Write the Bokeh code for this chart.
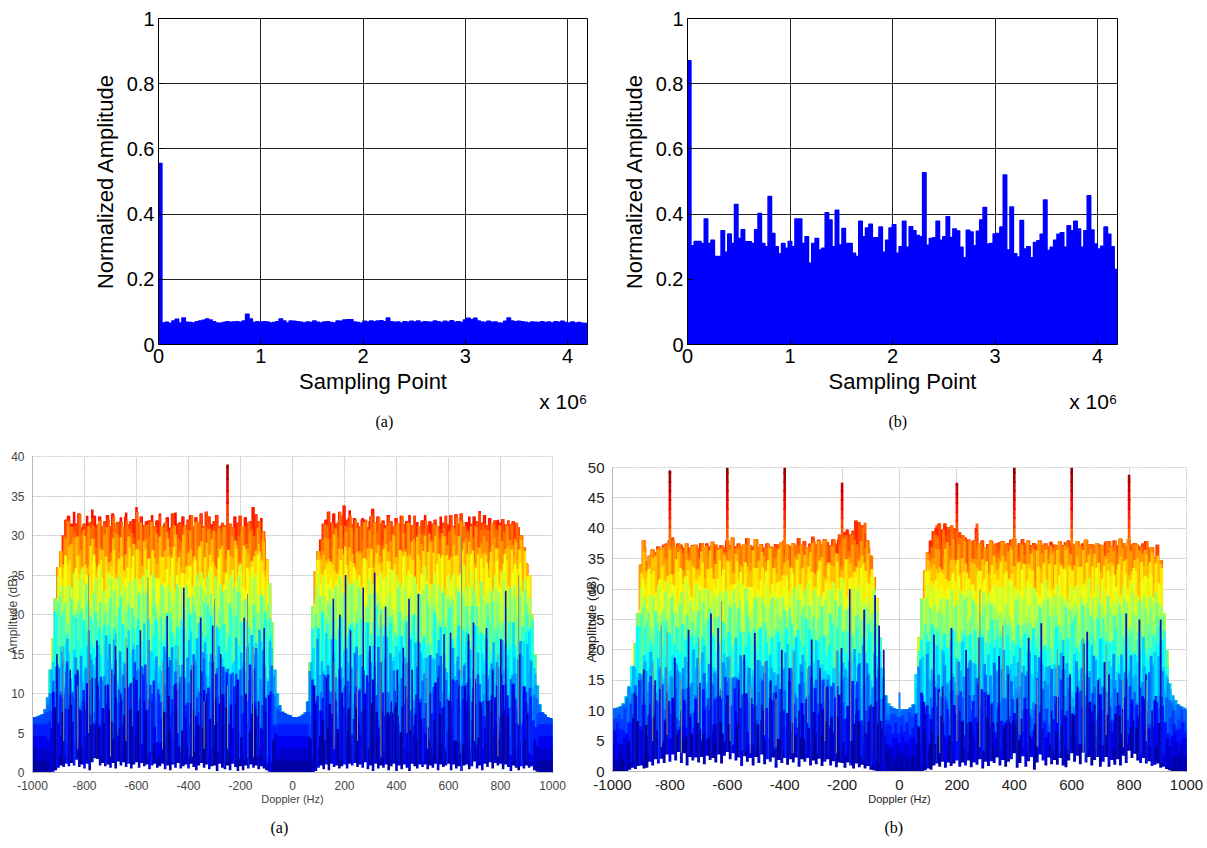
import numpy as np
from bokeh.embed import file_html
from bokeh.layouts import column, row
from bokeh.models import FixedTicker, Range1d, Title
from bokeh.plotting import figure
from bokeh.resources import INLINE

# ---------- data ----------
bin_width = 32768
x_limit = 4194304
amp_top_a = [
    .555, .066, .068, .064, .072, .077, .066, .081, .068, .067, .066, .070, .072, .074, .078, .075,
    .070, .066, .065, .067, .070, .068, .069, .070, .068, .072, .093, .078, .067, .070, .068, .070,
    .069, .066, .067, .070, .078, .072, .066, .072, .071, .070, .068, .066, .069, .067, .072, .068,
    .066, .069, .070, .067, .066, .072, .071, .075, .076, .076, .069, .067, .065, .071, .069, .072,
    .070, .072, .073, .070, .081, .070, .068, .069, .066, .070, .068, .071, .069, .072, .067, .070,
    .069, .068, .072, .070, .067, .071, .069, .073, .068, .070, .067, .075, .080, .076, .080, .072,
    .069, .067, .071, .068, .069, .066, .065, .071, .081, .072, .070, .071, .070, .068, .066, .069,
    .068, .067, .070, .067, .069, .066, .070, .068, .071, .067, .066, .069, .066, .067, .065, .064]
amp_top_b = [
    .870, .303, .316, .316, .310, .385, .310, .320, .270, .270, .349, .283, .339, .310, .429, .325,
    .352, .315, .315, .310, .352, .402, .310, .300, .454, .340, .300, .278, .310, .295, .316, .300,
    .385, .385, .310, .330, .249, .310, .325, .290, .295, .404, .382, .300, .412, .305, .356, .310,
    .310, .280, .270, .378, .330, .357, .369, .327, .327, .360, .283, .320, .357, .367, .280, .300,
    .378, .298, .361, .349, .334, .330, .527, .304, .325, .327, .378, .320, .330, .392, .328, .354,
    .348, .298, .266, .350, .345, .303, .347, .382, .420, .308, .310, .339, .340, .360, .520, .290,
    .422, .278, .268, .380, .293, .300, .266, .313, .318, .338, .443, .288, .298, .320, .338, .343,
    .298, .364, .349, .378, .354, .298, .349, .456, .351, .308, .293, .301, .360, .338, .300, .230]

doppler_step = 10
env_a = [
    7.0, 7.0, 7.1, 7.2, 7.4, 8.0, 9.5, 13, 17, 22,
    26, 28, 30, 32, 32.5, 31.5, 33, 31.5, 32.8, 31,
    31.5, 32.5, 31.6, 33.3, 32.5, 31.4, 32.4, 31.2, 31.8, 32.6,
    31.2, 32.8, 31.5, 31.7, 32.3, 31.1, 32.9, 31.4, 31.8, 32.1,
    33.6, 31.6, 32.4, 31.3, 31.8, 31.9, 32.6, 31.2, 31.9, 32.8,
    31.2, 31.6, 32.3, 31.0, 32.8, 32.9, 31.5, 31.7, 32.4, 31.3,
    32.0, 32.6, 31.2, 32.3, 31.5, 32.8, 31.2, 33.0, 32.4, 31.4,
    31.8, 32.6, 31.1, 31.6, 31.3, 32.3, 31.5, 31.0, 32.4, 31.6,
    32.5, 31.2, 32.3, 31.6, 31.8, 33.6, 32.7, 31.8, 32.2, 30.5,
    27, 24, 19, 13, 10, 8.5, 7.7, 7.5, 7.3, 7.2,
    7.0, 7.0, 7.0, 7.1, 7.3, 7.6, 9, 14, 21, 25.5,
    28, 29.5, 31.5, 32, 33, 31.6, 32.8, 31.5, 33, 32.5,
    33.8, 32, 33.2, 31.4, 32.2, 31.6, 31.2, 32.2, 32, 31,
    32.4, 33.4, 31.6, 32.4, 31.5, 31.9, 31.3, 32.6, 31.8, 31.1,
    32.2, 31.5, 32.5, 31.4, 31.8, 32.6, 31.3, 32.5, 31.7, 31.2,
    31.9, 32.6, 31.3, 31.8, 31.5, 32.0, 31.2, 32.4, 31.6, 32.5,
    31.4, 32.6, 31.2, 32.7, 31.5, 32.8, 31.2, 31.7, 32.4, 31.5,
    32.4, 31.8, 33.1, 31.6, 32.6, 31.3, 32.2, 31.5, 31.9, 32.0,
    31.6, 32.1, 31.4, 31.9, 31.4, 31.8, 31.6, 31.0, 30, 28.5,
    26.5, 25, 20, 15, 11, 8.6, 7.6, 7.3, 7.0, 6.9,
    6.8]
env_b = [
    10.3, 10.4, 10.5, 10.7, 11.2, 12.4, 14, 17.3, 21, 26,
    34, 38, 34.5, 35.5, 36.5, 36, 37, 36.5, 37.3, 37.5,
    38, 38.5, 37, 37.5, 37.3, 36.8, 37.5, 36.8, 37.2, 37.3,
    36.8, 37.6, 36.9, 37.5, 37, 37.8, 37.3, 36.7, 37.2, 36.8,
    38, 37.2, 38.5, 37, 37.5, 37, 37.4, 38.4, 37.2, 37,
    38.2, 36.9, 37.4, 36.8, 37.5, 37, 36.9, 37.4, 37.3, 37.7,
    38, 37.3, 37.1, 37.5, 37.2, 38.4, 37.3, 37.9, 36.9, 37.5,
    38.6, 37.4, 38.1, 37.3, 38.2, 37.7, 37.2, 38.2, 37.5, 39,
    38.5, 39.4, 39.8, 39, 39.6, 41.3, 41, 40.5, 40.9, 38,
    35.5, 32, 28.5, 22, 17, 12.5, 11.2, 10.7, 10.4, 10.3,
    10.2, 10.2, 10.2, 10.3, 10.5, 11, 16, 22, 28.5, 33,
    36, 38, 39.5, 40.5, 40.8, 39.8, 40.8, 40.2, 40.5, 40,
    39.8, 39.4, 38.8, 38.5, 38.2, 37.8, 38, 40.8, 37.5, 38,
    36.8, 37.4, 38, 37.3, 37.5, 37.7, 37.9, 37.4, 37.6, 38.1,
    38.3, 37.2, 37.6, 38.2, 37.5, 38, 37.2, 37.6, 37.3, 38,
    37.2, 37.5, 37, 37.8, 37.3, 37.2, 37.9, 37.2, 37.7, 38,
    37.5, 37.3, 37.9, 37.2, 37.5, 38.1, 37.3, 37.4, 37.2, 37.6,
    37.3, 37.2, 37.8, 37.9, 37, 38, 37.2, 38.3, 37.6, 37.1,
    38.2, 37.4, 37.6, 37.3, 37, 37.5, 37.9, 36.8, 36.9, 35.2,
    37.3, 34.8, 26, 20, 14.5, 12.5, 11.7, 11, 10.7, 10.5,
    10.3]
floor_a = [
    0, 0, 0, 0, 0, 0, 0, 0, .1, .3,
    .6, .9, .7, 1.1, .8, 1.2, .9, 1.6, .7, 1.0,
    .5, 1.1, .3, 1.3, 1.8, 1.7, .9, 1.2, .8, 1.0,
    .6, 1.2, .5, 1.4, .9, 1.3, .7, 1.1, .5, 1.0,
    1.3, .6, 1.2, .8, 1.0, .4, .9, 1.1, .6, .8,
    1.1, .4, .9, .3, 1.0, .6, 1.2, .5, .8, 1.0,
    .5, 1.1, .7, .3, .9, 1.2, .6, 1.0, .4, .8,
    .9, .2, 1.1, .6, .4, .9, .3, 1.1, .7, .2,
    .8, .3, .9, .5, 1.0, .6, .9, .4, .8, .5,
    .3, .1, 0, 0, 0, 0, 0, 0, 0, 0,
    0, 0, 0, 0, 0, 0, 0, 0, 0, .2,
    .6, .9, .4, 1.0, .3, 1.1, .7, .9, .5, .8,
    1.0, .5, 1.1, .9, 1.2, .7, 1.0, .6, 1.3, .4,
    .9, .2, 1.1, .5, .9, .6, 1.0, .3, .8, 1.1,
    .2, .9, .4, 1.0, .6, .2, 1.1, .8, .5, 1.0,
    .7, 1.0, .4, .9, .6, 1.1, .3, 1.0, .7, .9,
    1.1, .3, 1.0, .5, .8, .2, .9, 1.0, .4, .8,
    1.4, .5, .9, .3, 1.1, .7, 1.3, .5, 1.2, .9,
    1.1, .4, 1.0, .7, .2, .9, .6, .3, .8, .5,
    .9, .6, .8, .3, .1, 0, 0, 0, 0, 0,
    0]
floor_b = [
    0, 0, 0, 0, 0, .1, .3, .6, .4, .9,
    1, .5, .6, 1.6, 1.0, 2, 1.3, 2.1, 1.4, 2.8,
    1.6, 2.8, 1.8, 3.2, 1.4, 3.0, 1, 2.4, 1.8, 2.3,
    1.5, 2.4, 1.2, 2.6, 1.9, 2.2, 1.5, 2.8, 1.3, 2.6,
    3.2, 2.0, 3.0, 1.8, 2.3, .9, 2.5, 1.6, 2.2, 1.0,
    2.4, 1.4, 2.8, 1.2, 2, 1.6, 2.3, .6, 1.9, 1.4,
    2.2, 1.1, 2, 1.5, 2.3, .8, 2, 1.6, 2.2, 1.0,
    1.8, 1.2, 2.1, .9, 1.6, 2, 1, 1.7, .7, 1.5,
    1.4, .6, 1.5, 1, .5, 1.3, .7, 1.1, .5, .9,
    .3, .2, 0, 0, 0, 0, 0, 0, 0, 0,
    0, 0, 0, 0, 0, 0, 0, 0, 0, .2,
    .5, .3, 1, 1.3, .8, 1.6, .6, 1.5, .9, 1.3,
    1.8, .8, 1.5, 1, 1.8, .7, 1.5, 1.1, 2, .5,
    1.6, .9, 1.7, 1.4, 2.3, 1, 1.9, .8, 1.6, 2,
    3, .6, 1.4, 2.5, .8, 1.7, 2.4, .3, 1.5, 2.8,
    1.8, 1, 2.3, 1.2, 1.9, 1.1, 2.2, 1, .7, 1.8,
    3, 1.6, 2.6, 1.2, 3.1, 1.5, 2.4, 1, 1.9, 2.4,
    .8, 1.6, 2.4, .8, 1.9, 1.1, 2, 1, 2.6, 1.4,
    3.4, 2.2, 2.9, 1.8, 1.4, 2.2, 1.3, 1.7, .9, 1.1,
    1.3, .6, .8, .4, .2, 0, 0, 0, 0, 0,
    0]
ragged = [
    -0.4, 1.2, -2.1, 0.6, -1.0, 1.5, -3.0, 0.2, 1.0, -1.6,
    0.8, -2.6, 1.3, -0.2, -1.2, 1.7, -3.4, 0.4, 1.1, -0.9,
    1.4, -2.0, 0.3, -1.4, 1.6, -2.8, 0.9, -0.5, 1.2, -1.8,
    0.1, 1.8, -3.2, 0.7, -1.1, 1.0, -2.3, 1.5, -0.7, 0.5,
    -2.5, 1.1, 0.2, -1.7, 1.6, -0.3, -3.6, 1.2, 0.6, -1.3,
    1.7, -2.2, 0.4, -0.8, 1.3, -2.9, 1.0, 0.1, -1.5, 1.4,
    -0.6, 0.9, -2.7, 1.6, -0.1, -1.9, 1.2, 0.5, -3.1, 1.1,
    0.3, -1.2, 1.8, -2.4, 0.7, -0.4, 1.3, -1.6, 0.2, -3.3,
    1.5, -0.9, 0.6, -2.0, 1.4, 0.0, -1.4, 1.7, -2.6, 0.8,
    -0.2, 1.0, -3.5, 1.2, 0.4, -1.1, 1.6, -2.1, 0.3, -0.7,
    1.1, -2.8, 1.5, 0.1, -1.3, 0.9, -0.5, -2.3, 1.7, 0.6,
    -1.8, 1.3, -0.3, -3.0, 1.0, 0.5, -1.0, 1.4, -2.5, 0.2,
    1.6, -0.6, -1.7, 1.1, 0.7, -3.4, 1.2, -0.1, -1.2, 1.5,
    -2.2, 0.4, 1.0, -0.8, -2.9, 1.7, 0.3, -1.5, 0.9, -0.4,
    1.3, -2.7, 0.6, 1.1, -1.9, 0.0, 1.4, -3.2, 0.8, -0.2,
    1.6, -1.1, 0.5, -2.4, 1.2, -0.7, 0.2, -1.6, 1.5, -3.6,
    0.7, 1.0, -0.3, -2.0, 1.3, 0.4, -1.3, 1.8, -2.6, 0.1,
    -0.5, 1.1, -3.1, 0.9, 1.4, -1.7, 0.3, -0.9, 1.6, -2.3,
    0.6, -0.1, 1.2, -2.8, 1.0, -1.4, 0.5, 1.7, -3.3, 0.2,
    -0.6, 1.3, -1.0, 0.8, -2.1, 1.5, 0.4, -1.8, 1.1, -0.4,
    0.7]
# deep navy notches
notch_x_a = [-906, -855, -826, -784, -752, -681, -636, -585, -482, -418, -353, -307, -276, -186, -109,
             157, 182, 204, 223, 272, 298, 316, 358, 403, 426, 448, 484, 583, 608, 677, 696, 746, 801, 820, 874,
             -880, -800, -770, -720, -660, -610, -540, -455, -390, -330, -250, -215, -150, -130,
             130, 240, 340, 380, 460, 530, 560, 640, 720, 770, 850, 900]
notch_top_a = [15, 13, 13, 18, 16.7, 16, 15.8, 18, 19.8, 23.4, 19.6, 18.6, 15, 19.6, 18.3,
               22, 20, 25, 18, 23.4, 16, 25.3, 21, 13, 15.8, 22, 22.6, 17.5, 17.7, 17.5, 19, 18.3, 16.9, 23, 15,
               10, 9, 12, 11, 10, 12, 9, 11, 13, 10, 8, 11, 13, 9,
               12, 10, 14, 9, 13, 10, 12, 11, 9, 13, 10, 9]
notch_x_b = [-923, -891, -851, -783, -735, -657, -632, -560, -541, -504, -449, -410, -384, -306, -277, -202, -173, -123, -85, -71, -55,
             120, 181, 232, 278, 347, 379, 450, 494, 571, 594, 642, 654, 692, 715, 730, 790, 836, 859, 910,
             -870, -810, -760, -700, -600, -480, -430, -350, -250, -225, -150, -100,
             150, 210, 300, 320, 410, 530, 620, 680, 760, 880]
notch_top_b = [13, 16.8, 15, 18.7, 23.3, 26, 23.6, 15, 19.2, 22.8, 15, 20, 17, 21.7, 17, 20.3, 30, 26.6, 29, 24, 20,
               22.5, 23.6, 20, 22, 19, 16, 22, 24.4, 19, 16, 21, 23, 15, 18, 16, 26, 25, 16, 25,
               11, 13, 10, 14, 12, 11, 13, 10, 14, 9, 12, 11,
               14, 10, 13, 11, 12, 10, 14, 11, 13, 10]
# thin greyish streaks
streak_x_a = [-880, -826, -784, -700, -640, -556, -500, -440, -385, -340, -300, -250, -173, -150,
              160, 250, 340, 440, 520, 650, 700, 790, 870]
streak_low_a = [4, 3, 5, 2, 4, 8, 3, 5, 2, 3, 6, 3, 9, 2, 3, 4, 2, 5, 3, 12, 4, 2, 6]
streak_top_a = [16, 11, 25, 13, 17, 24.7, 14, 16, 14, 9, 22, 11, 22.6, 16, 14, 13, 20, 19, 13, 30, 16, 15, 25]
streak_x_b = [-860, -830, -810, -760, -700, -620, -590, -520, -470, -430, -370, -320, -260, -220, -170,
              140, 200, 280, 360, 420, 480, 550, 640, 720, 780, 860]
streak_low_b = [5, 4, 6, 3, 8, 12, 5, 3, 6, 4, 3, 8, 5, 3, 5, 3, 5, 4, 12, 6, 4, 8, 3, 6, 4, 5]
streak_top_b = [18, 24, 23, 15, 22, 28, 19, 14, 18, 12, 20, 17, 14, 20, 30, 13, 18, 30, 24, 20, 15, 20, 22, 21, 15, 15]
# tallest peaks, coloured by height
peak_x_a = [-250]
peak_low_a = [31]
peak_top_a = [39]
peak_x_b = [-800, -600, -400, -200, 200, 400, 600, 800]
peak_low_b = [37, 37, 37, 37, 38, 37, 37, 37]
peak_top_b = [49.5, 50, 50, 47.5, 47.5, 50, 50, 48.8]
centre_x_b = [0]
centre_top_b = [13]

doppler_ticks = [-1000, -800, -600, -400, -200, 0, 200, 400, 600, 800, 1000]
amp_ticks = [0, .2, .4, .6, .8, 1]
amp_labels = ["0", "0.2", "0.4", "0.6", "0.8", "1"]
sample_ticks = [0, 1e6, 2e6, 3e6, 4e6]
sample_labels = ["0", "1", "2", "3", "4"]
FONT = "Liberation Sans"
SERIF = "Liberation Serif"


def jet(t):
    t = float(np.clip(t, 0, 1))
    f = lambda c: int(255 * np.clip(1.5 - abs(4 * t - c), 0, 1))
    return "#%02x%02x%02x" % (f(3), f(2), f(1))


def make_fig(w, h, left, right, top, bottom, xr, yr):
    return figure(width=w, height=h, x_range=Range1d(*xr), y_range=Range1d(*yr),
                  output_backend="svg", toolbar_location=None, frame_align=False,
                  min_border_left=left, min_border_right=right,
                  min_border_top=top, min_border_bottom=bottom)


def stairs(left_edge, step, values, shift=0.0):
    edges = left_edge + shift + np.arange(len(values) + 1) * step
    return np.repeat(edges, 2)[1:-1], np.repeat(np.asarray(values, float), 2)


def top_panel(values, w, left, right, caption, cap_off):
    p = make_fig(w, 440, left, right, 18, 96, (0, x_limit), (0, 1))
    xs, ys = stairs(0, bin_width, values)
    p.varea(x=xs, y1=0, y2=ys, color="#0000ff")
    p.line(x=xs, y=ys, color="#0000ff", line_width=1.6, line_join="round")
    for ax, ticks, labels in ((p.xaxis[0], sample_ticks, sample_labels), (p.yaxis[0], amp_ticks, amp_labels)):
        ax.ticker = FixedTicker(ticks=ticks)
        ax.major_label_overrides = dict(zip(ticks, labels))
        ax.major_label_text_font = FONT
        ax.major_label_text_font_size = "20px"
        ax.major_label_text_color = "black"
        ax.major_tick_in = 5
        ax.major_tick_out = 0
        ax.minor_tick_line_color = None
        ax.axis_line_color = "black"
        ax.major_label_standoff = 4
        ax.axis_label_text_font = FONT
        ax.axis_label_text_font_size = "22px"
        ax.axis_label_text_font_style = "normal"
        ax.axis_label_text_color = "black"
    p.xaxis[0].axis_label = "Sampling Point"
    p.xaxis[0].axis_label_standoff = 3
    p.yaxis[0].axis_label = "Normalized Amplitude"
    p.yaxis[0].axis_label_standoff = 6
    p.grid.grid_line_color = "#222222"
    p.grid.grid_line_width = 1
    p.outline_line_color = "black"
    # multiplier below the right end of the axis, caption under the panel
    p.add_layout(Title(text="x 10\u2076", align="right", text_font=FONT, text_font_size="21px",
                       text_font_style="normal", text_color="black", standoff=-18, offset=0), "below")
    p.add_layout(Title(text=caption, align="left", offset=cap_off, text_font=SERIF, text_font_size="16px",
                       text_font_style="normal", text_color="black", standoff=14), "below")
    return p


def spectrum(env, floor, ymax, top, w, left, right, nx, ntop, sx, slow, stop, px, plow, ptop,
             tick_size, xlabel_size, ylabel_size, tick_color, caption, cap_off, notch_w, base_t, y_standoff):
    p = make_fig(w, 408, left, right, top, 76, (-1000, 1000), (0, ymax))
    env = np.asarray(env, float)
    rag = np.asarray(ragged, float)
    weight = np.clip((env - 9) / 10, 0, 1)
    xs, ys = stairs(-1000 - doppler_step / 2, doppler_step, env)
    # Height-coloured surface: the tallest layer first, each lower one painted over it.
    p.varea(x=xs, y1=0, y2=ys, color=jet(base_t))
    levels = np.arange(1.5, ymax * .85, ymax / 26)[::-1]
    for i, lev in enumerate(levels):
        t = lev / ymax
        amp = 1.0 + 1.9 * np.clip(1.6 * (1 - t) - .55, 0, 1)
        jag = (np.roll(rag, (i * 23) % len(rag)) + .7 * np.roll(rag[::-1], (i * 41) % len(rag))) * weight * amp
        lx, band = stairs(-1000 - doppler_step / 2, doppler_step, np.minimum(env, lev + jag), (i % 3 - 1) * 3.3)
        p.varea(x=lx, y1=0, y2=band, color=jet(t))
    p.segment(x0=nx, y0=[1.5] * len(nx), x1=nx, y1=ntop, color="#0a10b4", line_width=notch_w)
    p.segment(x0=sx, y0=slow, x1=sx, y1=stop, color="#87907c", line_width=1)
    # Tall peaks keep the colour of their height.
    for xp, lo, hi in zip(px, plow, ptop):
        edges = np.append(np.arange(lo, hi, 1.5), hi)
        for a, b in zip(edges[:-1], edges[1:]):
            p.segment(x0=[xp], y0=[a], x1=[xp], y1=[min(b + .3, hi)], color=jet((a + b) / 2 / ymax), line_width=2.6)
    _, fl = stairs(-1000 - doppler_step / 2, doppler_step, floor)
    p.varea(x=xs, y1=0, y2=fl, color="white")
    for ax in (p.xaxis[0], p.yaxis[0]):
        ax.major_label_text_font = FONT
        ax.major_label_text_font_size = f"{tick_size}px"
        ax.major_label_text_color = tick_color
        ax.major_tick_line_color = None
        ax.minor_tick_line_color = None
        ax.axis_line_color = "#b8b8b8"
        ax.major_label_standoff = 2
        ax.axis_label_text_font = FONT
        ax.axis_label_text_font_style = "normal"
        ax.axis_label_text_color = tick_color
    p.xaxis[0].axis_label_text_font_size = f"{xlabel_size}px"
    p.yaxis[0].axis_label_text_font_size = f"{ylabel_size}px"
    p.xaxis[0].ticker = FixedTicker(ticks=doppler_ticks)
    p.yaxis[0].ticker = FixedTicker(ticks=list(range(0, ymax + 1, 5)))
    p.xaxis[0].major_label_overrides = {v: str(v) for v in doppler_ticks}
    p.xaxis[0].axis_label = "Doppler (Hz)"
    p.xaxis[0].axis_label_standoff = 0
    p.yaxis[0].axis_label = "Amplitude (dB)"
    p.yaxis[0].axis_label_standoff = y_standoff
    p.grid.grid_line_color = "#c4c4c4"
    p.grid.grid_line_dash = "2 1"
    p.grid.grid_line_width = 1
    p.outline_line_color = "#cccccc"
    p.outline_line_dash = "2 1"
    p.add_layout(Title(text=caption, align="left", offset=cap_off, text_font=SERIF, text_font_size="16px",
                       text_font_style="normal", text_color="black", standoff=22, vertical_align="top"), "below")
    return p


fig_a = top_panel(amp_top_a, 617, 158, 30, "(a)", 217)
fig_b = top_panel(amp_top_b, 590, 70, 90, "(b)", 201)
fig_c = spectrum(env_a, floor_a, 40, 16, 580, 32, 28,
                 notch_x_a, notch_top_a, streak_x_a, streak_low_a, streak_top_a,
                 peak_x_a, peak_low_a, peak_top_a,
                 12, 11, 12, "#444444", "(a)", 238, 1.6, .86, -12)
fig_d = spectrum(env_b, floor_b, 50, 27, 627, 27, 21,
                 notch_x_b, notch_top_b, streak_x_b, streak_low_b, streak_top_b,
                 peak_x_b, peak_low_b, peak_top_b,
                 15, 11, 13, "#222222", "(b)", 272, 1.8, .78, -14)
fig_d.segment(x0=centre_x_b, y0=[9] * len(centre_x_b), x1=centre_x_b, y1=centre_top_b, color="#0a7dff", line_width=2)

page = column(row(fig_a, fig_b), row(fig_c, fig_d))
open("out.html", "w").write(file_html(page, INLINE))
